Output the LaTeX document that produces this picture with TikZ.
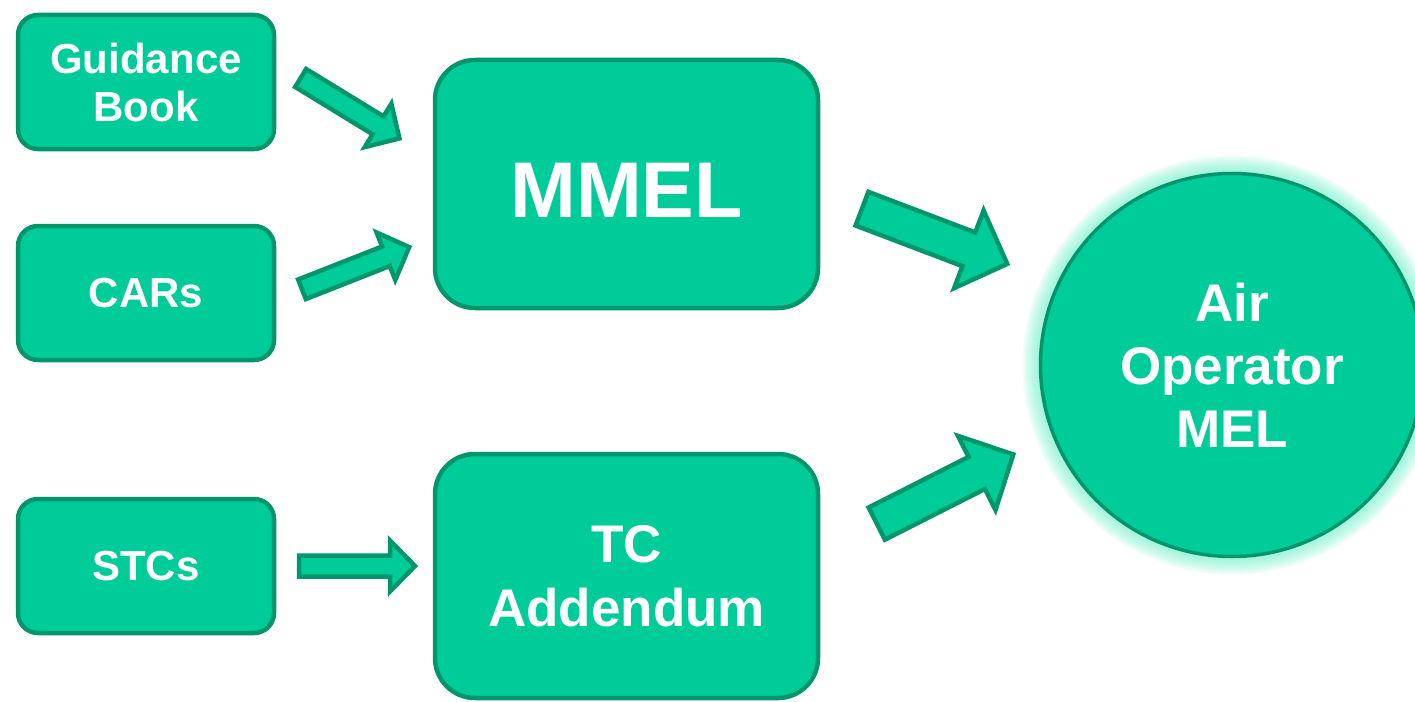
\documentclass[tikz,border=0pt]{standalone}
\usepackage{fontspec}
\setmainfont{Liberation Sans}
\usepackage{tikz}
\usetikzlibrary{calc,backgrounds}
\definecolor{boxfill}{RGB}{0,204,153}
\definecolor{boxline}{RGB}{0,150,108}
\definecolor{glow}{RGB}{120,240,205}
\tikzstyle{Box}=[rectangle, rounded corners=20, draw=boxline, fill=boxfill, line width=4.5, text=white, align=center, inner sep=0, minimum width=256, minimum height=134, font=\bfseries\fontsize{42}{48}\selectfont]
\tikzstyle{BigBox}=[Box, rounded corners=40, minimum width=383, minimum height=248, font=\bfseries\fontsize{53}{64}\selectfont]
\tikzstyle{Arrow}=[draw=boxline, fill=boxfill, line width=4.5]
% block arrow: tail, tip, half shaft, half head, head length
\newcommand{\BlockArrow}[5]{%
  \coordinate (hb) at ($(#2)!#5!(#1)$);
  \draw[Arrow] ($(#1)!#3!90:(#2)$) -- ($(hb)!#3!90:(#2)$) -- ($(hb)!#4!90:(#2)$) -- (#2)
    -- ($(hb)!#4!-90:(#2)$) -- ($(hb)!#3!-90:(#2)$) -- ($(#1)!#3!-90:(#2)$) -- cycle;
}

\begin{document}
\begin{tikzpicture}[x=1pt, y=-1pt]
    \useasboundingbox (0,0) rectangle (1415,701);
    \path
    (146,82) node[Box] (guide) {Guidance\\Book}
    (146,293) node[Box] (cars) {CARs}
    (146,566) node[Box] (stcs) {STCs}
    (626.5,184) node[BigBox, text height=66, font=\bfseries\fontsize{79}{90}\selectfont] (mmel) {MMEL}
    (626.5,576) node[BigBox, minimum height=244] (tc) {TC\\Addendum}
    (1232,365) node[Box, circle, minimum size=383, line width=3.5, font=\bfseries\fontsize{53}{63}\selectfont] (mel) {Air\\Operator\\MEL};

    \begin{scope}[on background layer]
    \foreach \r in {2,4,...,18}
        \fill[glow, opacity=0.12] (mel.center) circle [radius={191.5+\r}];
    \end{scope}

    \coordinate (a1t) at (300.7,78);   \coordinate (a1h) at (399.4,138.4);
    \coordinate (a2t) at (302,289.3);  \coordinate (a2h) at (409.2,247.1);
    \coordinate (a3t) at (299,566);    \coordinate (a3h) at (415,566);
    \coordinate (a4t) at (862,208.7);  \coordinate (a4h) at (1007.2,263.9);
    \coordinate (a5t) at (876.8,523.6); \coordinate (a5h) at (1013.3,454.4);

    \BlockArrow{a1t}{a1h}{10.5pt}{25.5pt}{25pt}
    \BlockArrow{a2t}{a2h}{10.5pt}{25.5pt}{25pt}
    \BlockArrow{a3t}{a3h}{10.5pt}{25.5pt}{25pt}
    \BlockArrow{a4t}{a4h}{18pt}{41.5pt}{41pt}
    \BlockArrow{a5t}{a5h}{18pt}{41.5pt}{41pt}
\end{tikzpicture}
\end{document}
